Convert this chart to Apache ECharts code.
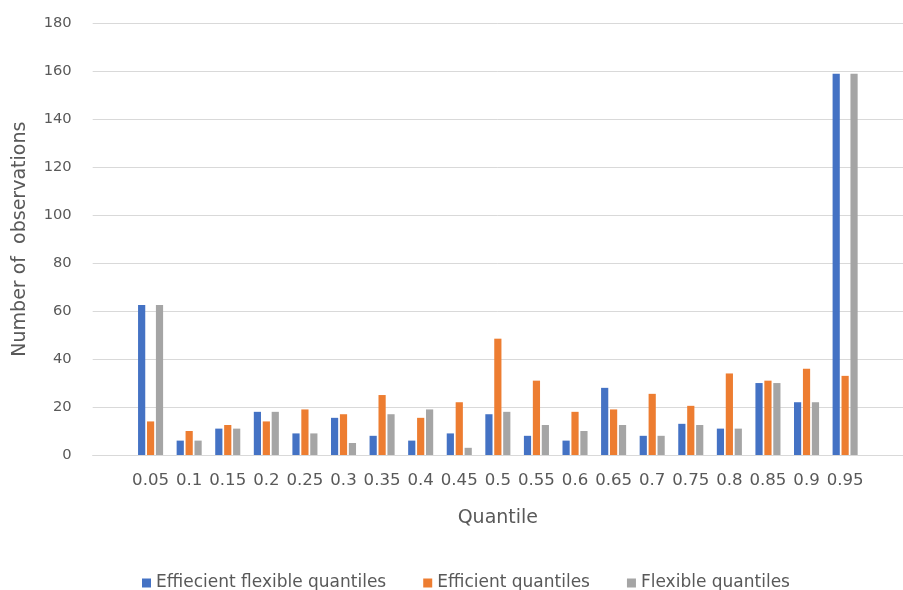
<!DOCTYPE html>
<html>
<head>
<meta charset="utf-8">
<script src="https://cdn.jsdelivr.net/npm/echarts@6/dist/echarts.min.js"></script>
<style>
  html, body { margin: 0; padding: 0; background: #ffffff; }
  #chart { width: 903px; height: 590px; }
</style>
</head>
<body>
<div id="chart"></div>
<script>
// Quantile categories (blank slots pad the axis on both ends)
const quantiles = ['', '0.05', '0.1', '0.15', '0.2', '0.25', '0.3', '0.35', '0.4', '0.45', '0.5',
  '0.55', '0.6', '0.65', '0.7', '0.75', '0.8', '0.85', '0.9', '0.95', ''];

// Number of observations per quantile
const effiecientFlexible = [null, 62.5, 6, 11, 18, 9, 15.5, 8, 6, 9, 17, 8, 6, 28, 8, 13, 11, 30, 22, 159, null];
const efficient = [null, 14, 10, 12.5, 14, 19, 17, 25, 15.5, 22, 48.5, 31, 18, 19, 25.5, 20.5, 34, 31, 36, 33, null];
const flexible = [null, 62.5, 6, 11, 18, 9, 5, 17, 19, 3, 18, 12.5, 10, 12.5, 8, 12.5, 11, 30, 22, 159, null];

const seriesNames = ['Effiecient flexible quantiles', 'Efficient quantiles', 'Flexible quantiles'];
const seriesColors = ['#4472C4', '#ED7D31', '#A5A5A5'];
const yTicks = { min: 0, max: 180, interval: 20 };

const textColor = '#595959';
const fontFamily = '"DejaVu Sans", sans-serif';
const gridColor = '#d9d9d9';

const chart = echarts.init(document.getElementById('chart'), null, { renderer: 'canvas' });

const seriesData = [effiecientFlexible, efficient, flexible];

chart.setOption({
  animation: false,
  textStyle: { fontFamily: fontFamily, color: textColor },
  grid: { left: 92.7, top: 23.3, height: 431.7, right: -24.7, containLabel: false },
  legend: {
    left: 137,
    top: 569,
    itemWidth: 9,
    itemHeight: 9,
    itemGap: 37,
    icon: 'rect',
    textStyle: { color: textColor, fontSize: 17, lineHeight: 18, fontFamily: fontFamily },
    data: seriesNames
  },
  xAxis: {
    type: 'category',
    data: quantiles,
    name: 'Quantile',
    nameLocation: 'middle',
    nameGap: 54,
    nameTextStyle: { color: textColor, fontSize: 19, fontFamily: fontFamily },
    axisLine: { show: true, lineStyle: { color: gridColor, width: 1 } },
    axisTick: { show: false },
    axisLabel: { color: textColor, fontSize: 16.6, fontFamily: fontFamily, margin: 17, interval: 0 }
  },
  yAxis: {
    type: 'value',
    min: yTicks.min,
    max: yTicks.max,
    interval: yTicks.interval,
    name: 'Number of  observations',
    nameLocation: 'middle',
    nameGap: 63,
    nameRotate: 90,
    nameTextStyle: { color: textColor, fontSize: 19, fontFamily: fontFamily },
    axisLine: { show: false },
    axisTick: { show: false },
    axisLabel: { color: textColor, fontSize: 14.7, fontFamily: fontFamily, margin: 21 },
    splitLine: { lineStyle: { color: gridColor, width: 1 } }
  },
  series: seriesNames.map((name, i) => ({
    name: name,
    type: 'bar',
    data: seriesData[i],
    barWidth: 7.2,
    barGap: '24%',
    itemStyle: { color: seriesColors[i] }
  }))
});
</script>
</body>
</html>
